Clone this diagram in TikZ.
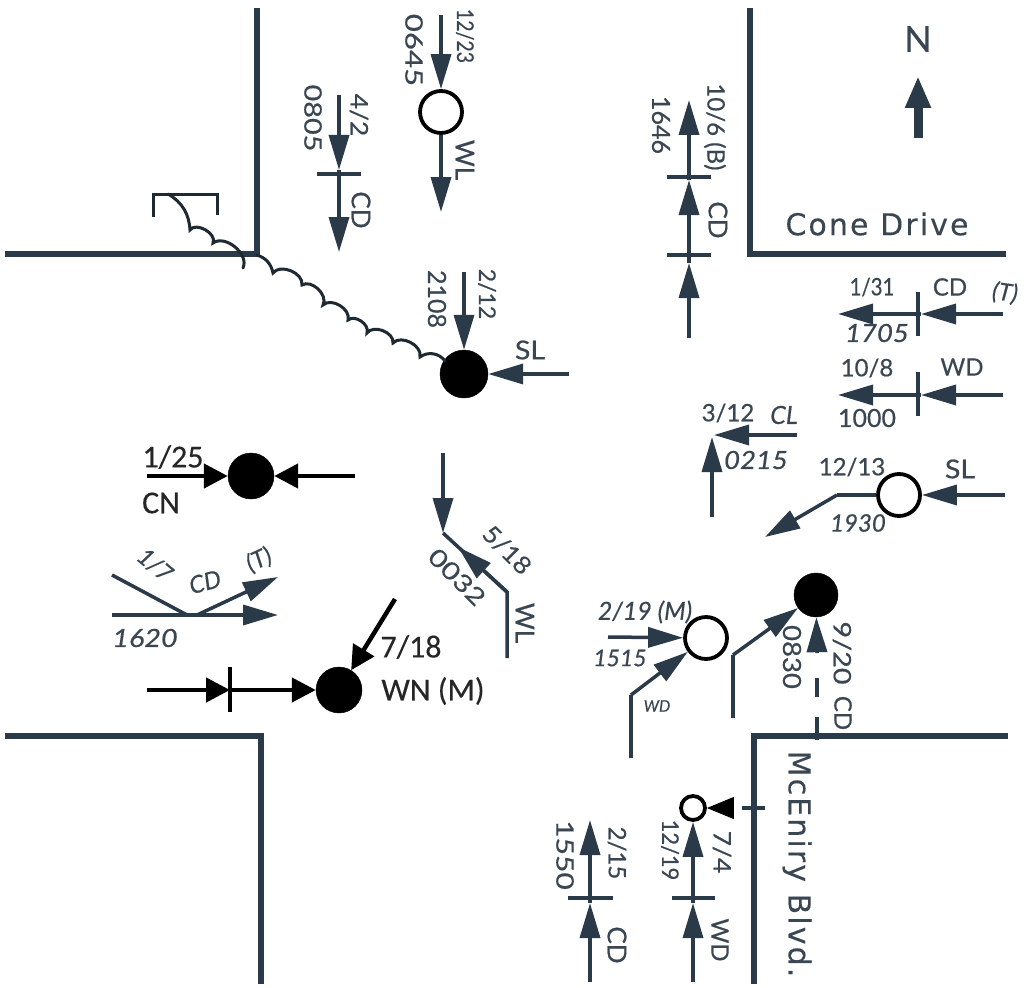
\documentclass[tikz,border=0pt]{standalone}
\usepackage{graphicx}
\usepackage{fontspec}
\setmainfont{Liberation Sans}
\newfontfamily\hand[FakeBold=0.5]{Lato}
\newfontfamily\handi[FakeBold=0.5]{Lato Italic}
\newfontfamily\carl[FakeBold=0.3]{Carlito}
\newfontfamily\deja[FakeBold=0.3,LetterSpace=7]{DejaVu Sans}
\usetikzlibrary{arrows.meta}
\newcommand\sx[2]{\scalebox{#1}[1]{#2}}
\definecolor{ink}{HTML}{2B3A48}
\definecolor{txt}{HTML}{3A4652}
\tikzset{
 road/.style={draw=ink,line width=6.5pt,line join=miter},
 ln/.style={draw=ink,line width=3.5pt},
 lnk/.style={draw=black,line width=4.5pt},
 tick/.style={draw=ink,line width=3.5pt},
 ar/.style={ln,-{Triangle[length=35pt,width=20pt]}},
 ark/.style={lnk,-{Triangle[length=24pt,width=24pt]}},
 fullc/.style={circle,fill=black,draw=black,inner sep=0pt,minimum size=#1},
 openc/.style={circle,fill=white,draw=black,line width=3.8pt,inner sep=0pt,minimum size=#1},
 lbl/.style={font=\hand\fontsize{#1}{#1}\selectfont,text=txt,inner sep=0pt},
 lbi/.style={font=\handi\fontsize{#1}{#1}\selectfont,text=txt,inner sep=0pt},
 vl/.style={lbl=#1,rotate=-90},
 prt/.style={font=\carl\fontsize{32}{32}\selectfont,text=black!85,inner sep=0pt},
 sign/.style={font=\deja\fontsize{30}{30}\selectfont,text=txt,inner sep=0pt},
 squig/.style={draw=ink!70!black,line width=3pt,line cap=round},
}
\begin{document}
\begin{tikzpicture}[x=1pt,y=-1pt]
\useasboundingbox (0,0) rectangle (1024,987);
% roads
\coordinate (r1a) at (5,254); \coordinate (r1b) at (257,254); \coordinate (r1c) at (257,8);
\draw[road] (r1a) -- (r1b) -- (r1c);
\coordinate (r2a) at (750,8); \coordinate (r2b) at (750,254); \coordinate (r2c) at (1006,254);
\draw[road] (r2a) -- (r2b) -- (r2c);
\coordinate (r3a) at (5,736); \coordinate (r3b) at (261,736); \coordinate (r3c) at (261,984);
\draw[road] (r3a) -- (r3b) -- (r3c);
\coordinate (r4a) at (1008,736); \coordinate (r4b) at (754,736); \coordinate (r4c) at (754,984);
\draw[road] (r4a) -- (r4b) -- (r4c);
% north
\coordinate (na) at (918,138); \coordinate (nb) at (918,76);
\draw[ink,line width=9pt,-{Triangle[length=32pt,width=24pt]}] (na) -- (nb);
\node[lbl=36] (nn) at (918,39) {N};
\node[sign] (cone) at (877,224) {Cone Drive};
\node[sign,rotate=-90] (mce) at (797,864) {McEniry Blvd.};
% utility symbol
\coordinate (b1) at (153,217); \coordinate (b2) at (153,194); \coordinate (b3) at (217,194); \coordinate (b4) at (217,215);
\draw[squig,line cap=butt] (b1) -- (b2) -- (b3) -- (b4);
\coordinate (s0) at (168,194); \coordinate (s1) at (190,230); \coordinate (s2) at (213,243); \coordinate (s3) at (243,268);
\draw[squig] (s0) to[bend left=28] (s1) to[bend left=85] (s2) to[bend left=75] (s3);
\coordinate (q0) at (257,255); \coordinate (q1) at (273,273); \coordinate (q2) at (302,285); \coordinate (q3) at (323,305);
\coordinate (q4) at (348,320); \coordinate (q5) at (367,333); \coordinate (q6) at (393,343); \coordinate (q7) at (420,357); \coordinate (q8) at (445,361);
\node[fullc=48pt] (c3) at (464,374) {};
\draw[squig] (q0) to[bend left=30] (q1) to[bend left=75] (q2) to[bend left=75] (q3) to[bend left=75] (q4) to[bend left=75] (q5) to[bend left=75] (q6) to[bend left=75] (q7) to[bend left=45] (q8);
% group 4/2
\coordinate (a1) at (339,95); \coordinate (a2) at (339,170); \coordinate (a3) at (339,252);
\coordinate (a4) at (317,174); \coordinate (a5) at (361,174);
\draw[ar] (a1) -- (a2); \draw[ar] (a2) -- (a3); \draw[tick] (a4) -- (a5);
\node[vl=24] (t1) at (359,115) {\sx{1.1}{4/2}}; \node[vl=24] (t2) at (313,118) {\sx{1.2}{0805}}; \node[vl=26] (t3) at (361,210) {CD};
% group 12/23
\node[openc=42pt] (c1) at (441,112) {};
\coordinate (b5) at (441,15); \coordinate (b6) at (441,212);
\draw[ar] (b5) -- (c1); \draw[ar] (c1) -- (b6);
\node[vl=23] (t4) at (465,36) {\sx{0.85}{12/23}}; \node[vl=24] (t5) at (414,50) {\sx{1.3}{0645}}; \node[vl=26] (t6) at (465,160) {WL};
% 2/12
\coordinate (c31) at (464,272); \coordinate (c32) at (569,374);
\draw[ar] (c31) -- (c3); \draw[ar] (c32) -- (c3);
\node[vl=23] (t7) at (487,294) {2/12}; \node[vl=25] (t8) at (437,299) {2108}; \node[lbl=26] (t9) at (530,350) {\sx{1.1}{SL}};
% 10/6
\coordinate (d1) at (689,338); \coordinate (d2) at (689,263); \coordinate (d3) at (689,180); \coordinate (d4) at (689,100);
\draw[ar] (d1) -- (d2); \draw[ar] (d2) -- (d3); \draw[ar] (d3) -- (d4);
\coordinate (d5) at (667,177); \coordinate (d6) at (711,177); \coordinate (d7) at (667,255); \coordinate (d8) at (711,255);
\draw[tick] (d5) -- (d6); \draw[tick] (d7) -- (d8);
\node[vl=24] (t10) at (715,127) {10/6 (B)}; \node[vl=25] (t11) at (661,125) {1646}; \node[vl=26] (t12) at (718,220) {CD};
% 1/31
\coordinate (e1) at (1003,314); \coordinate (e2) at (921,314); \coordinate (e3) at (838,314);
\draw[ar] (e1) -- (e2); \draw[ar] (e2) -- (e3);
\coordinate (e4) at (918,292); \coordinate (e5) at (918,336); \draw[tick] (e4) -- (e5);
\node[lbl=24] (t13) at (872,287) {\sx{0.85}{1/31}}; \node[lbl=24] (t14) at (950,287) {CD}; \node[lbi=24,rotate=-8] (t15) at (1005,293) {(T)}; \node[lbi=25] (t16) at (877,333) {\sx{1.1}{1705}};
% 10/8
\coordinate (f1) at (1003,395); \coordinate (f2) at (921,395); \coordinate (f3) at (838,395);
\draw[ar] (f1) -- (f2); \draw[ar] (f2) -- (f3);
\coordinate (f4) at (918,372); \coordinate (f5) at (918,416); \draw[tick] (f4) -- (f5);
\node[lbl=24] (t17) at (867,368) {10/8}; \node[lbl=24] (t18) at (962,367) {WD}; \node[lbl=25] (t19) at (867,418) {1000};
% 3/12
\coordinate (g1) at (712,517); \coordinate (g2) at (712,437); \coordinate (g3) at (797,435); \coordinate (g4) at (714,435);
\draw[ar] (g1) -- (g2); \draw[ar] (g3) -- (g4);
\node[lbl=24] (t20) at (728,413) {3/12}; \node[lbi=25] (t21) at (784,415) {CL}; \node[lbi=25] (t22) at (756,460) {\sx{1.1}{0215}};
% 12/13
\node[openc=42pt] (c4) at (899,495) {};
\coordinate (h1) at (837,495); \coordinate (h2) at (765,537); \coordinate (h3) at (1005,495);
\draw[ln] (c4) -- (h1); \draw[ar] (h1) -- (h2); \draw[ar] (h3) -- (c4);
\node[lbl=24] (t23) at (852,467) {12/13}; \node[lbl=26] (t24) at (960,469) {\sx{1.1}{SL}}; \node[lbi=24] (t25) at (858,523) {1930};
% 2/19
\node[openc=42pt] (c5) at (706,638) {};
\coordinate (i1) at (608,637); \coordinate (i2) at (631,758); \coordinate (i3) at (631,695);
\draw[ar] (i1) -- (c5); \draw[ln] (i2) -- (i3); \draw[ar] (i3) -- (c5);
\node[lbi=25] (t26) at (645,612) {2/19 (M)}; \node[lbi=23] (t27) at (620,658) {1515};
\node[lbi=16] (t28) at (657,706) {WD};
% 9/20
\node[fullc=44pt] (c6) at (816,595) {};
\coordinate (j1) at (733,718); \coordinate (j2) at (733,655); \coordinate (j3) at (817,653);
\coordinate (j4) at (817,678); \coordinate (j5) at (817,697); \coordinate (j6) at (817,717); \coordinate (j7) at (817,740);
\draw[ln] (j1) -- (j2); \draw[ar] (j2) -- (c6);
\draw[ar] (j3) -- (c6);
\draw[tick] (j4) -- (j5); \draw[tick] (j6) -- (j7);
\node[vl=25] (t29) at (792,657) {\sx{1.1}{0830}}; \node[vl=24] (t30) at (842,653) {\sx{1.2}{9/20}}; \node[vl=24] (t31) at (843,713) {CD};
% 7/4
\node[openc=24pt] (c7) at (693,808) {};
\coordinate (k1) at (693,982); \coordinate (k2) at (693,903);
\draw[ar] (k1) -- (k2); \draw[ar] (k2) -- (c7);
\coordinate (k3) at (672,898); \coordinate (k4) at (715,898); \draw[tick] (k3) -- (k4);
\coordinate (k5) at (733,808); \coordinate (k7) at (742,808); \coordinate (k8) at (765,808);
\draw[draw=black,line width=1pt,-{Triangle[length=27pt,width=22pt,color=black]}] (k5) -- (c7);
\draw[tick] (k7) -- (k8);
\node[vl=24] (t32) at (722,852) {\sx{1.1}{7/4}}; \node[vl=23] (t33) at (670,850) {\sx{0.95}{12/19}}; \node[vl=24] (t34) at (720,940) {WD};
% 2/15
\coordinate (l1) at (590,982); \coordinate (l2) at (590,903); \coordinate (l3) at (590,820);
\draw[ar] (l1) -- (l2); \draw[ar] (l2) -- (l3);
\coordinate (l4) at (568,898); \coordinate (l5) at (613,898); \draw[tick] (l4) -- (l5);
\node[vl=24] (t35) at (617,853) {2/15}; \node[vl=24] (t36) at (565,855) {\sx{1.25}{1550}}; \node[vl=26] (t37) at (617,945) {CD};
% 1/25
\node[fullc=46pt] (c8) at (251,476) {};
\coordinate (m1) at (147,476); \coordinate (m2) at (355,476);
\draw[ark] (m1) -- (c8); \draw[ark] (m2) -- (c8);
\node[prt] (t38) at (173,457) {1/25}; \node[prt] (t39) at (161,503) {CN};
% 1/7
\coordinate (n1) at (112,575); \coordinate (n2) at (187,615); \coordinate (n3) at (112,615); \coordinate (n4) at (278,615);
\coordinate (n5) at (197,615); \coordinate (n6) at (278,577);
\draw[ln] (n1) -- (n2);
\draw[ar] (n3) -- (n4); \draw[ar] (n5) -- (n6);
\node[lbi=24,rotate=-40] (t40) at (155,565) {1/7}; \node[lbi=24,rotate=15] (t41) at (205,582) {CD}; \node[lbi=24,rotate=25] (t42) at (259,560) {(T)}; \node[lbi=25] (t43) at (145,638) {\sx{1.15}{1620}};
% 7/18
\node[fullc=46pt] (c9) at (339,690) {};
\coordinate (o1) at (147,690); \coordinate (o2) at (230,690); \coordinate (o3) at (395,599);
\draw[ark] (o1) -- (o2); \draw[ark] (o2) -- (c9); \draw[ark] (o3) -- (c9);
\coordinate (o4) at (230,667); \coordinate (o5) at (230,712); \draw[lnk] (o4) -- (o5);
\node[prt] (t44) at (411,647) {7/18}; \node[prt] (t45) at (433,691) {WN (M)};
% 5/18
\coordinate (p1) at (443,453); \coordinate (p2) at (443,533); \coordinate (p3) at (507,592); \coordinate (p4) at (507,658); \coordinate (p5) at (458,547);
\draw[ar] (p1) -- (p2);
\draw[ln] (p2) -- (p3) -- (p4);
\draw[ar] (p3) -- (p5);
\node[lbl=24,rotate=-45] (t46) at (507,550) {\sx{1.1}{5/18}}; \node[lbl=24,rotate=-45] (t47) at (457,577) {\sx{1.25}{0032}}; \node[vl=26] (t48) at (525,623) {WL};
\end{tikzpicture}
\end{document}
